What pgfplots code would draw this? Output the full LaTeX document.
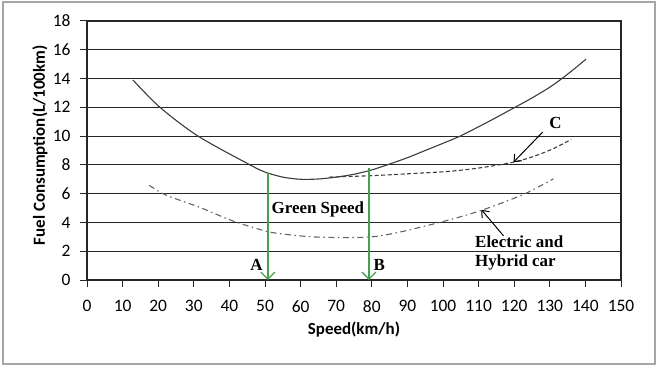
\documentclass[border=0pt]{standalone}
\usepackage{pgfplots}
\pgfplotsset{compat=1.18}
\usepackage{fontspec}
\setmainfont{Carlito}
\newfontfamily\tnr{Liberation Serif}
\usetikzlibrary{arrows.meta}
\definecolor{gline}{RGB}{70,160,80}
\definecolor{curve}{RGB}{60,60,60}
\begin{document}
\begin{tikzpicture}
\useasboundingbox (-87bp,-88bp) rectangle (572bp,280bp);
\draw[black!35, line width=1.3bp] (-84bp,-84bp) rectangle (568bp,278bp);
\begin{axis}[
  at={(0,0)}, anchor=south west,
  scale only axis, width=534bp, height=259bp,
  xmin=0, xmax=150, ymin=0, ymax=18,
  xtick={0,10,...,150}, ytick={0,2,...,18},
  xtick pos=bottom, ytick pos=left,
  tick align=outside, major tick length=7bp,
  ymajorgrids, grid style={black!85, line width=1.1bp},
  axis line style={black!85, line width=1.1bp},
  tick style={black!85, line width=1bp},
  /pgf/number format/assume math mode=true,
  ticklabel style={font=\fontsize{17.5}{17.5}\selectfont},
  xticklabel style={yshift=-10bp},
  yticklabel style={xshift=-6bp},
  xlabel={Speed(km/h)}, ylabel={Fuel Consumption(L/100km)},
  label style={font=\bfseries\fontsize{17}{17}\selectfont},
  xlabel style={at={(axis description cs:0.5,-0.193)}, anchor=center},
  ylabel style={at={(axis description cs:-0.088,0.52)}, anchor=center},
  clip=false,
]
\addplot[curve, line width=1.1bp, smooth] coordinates {
(12.9,13.9) (20.5,12) (31.2,10) (45.8,8) (50,7.5) (55,7.15) (60,7.0) (65,7.02)
(70,7.15) (75,7.35) (80,7.65) (84.3,8.0) (90,8.5) (95,9.0) (100,9.5) (104.8,10)
(110,10.65) (115,11.3) (120.2,12) (125,12.65) (130,13.4) (133.4,14) (136.5,14.6) (140.2,15.35)};
\addplot[curve, line width=1.1bp, smooth, dash pattern=on 4bp off 2.5bp] coordinates {
(68,7.15) (80,7.25) (90,7.38) (100,7.52) (105,7.63) (110,7.78) (115,7.97) (119.8,8.19)
(124,8.47) (128,8.82) (132,9.25) (136,9.77)};
\addplot[curve!80, line width=1.1bp, smooth, dash pattern=on 6bp off 3.5bp on 1.5bp off 3.5bp] coordinates {
(17.5,6.58) (21.3,6.0) (26,5.55) (31.7,5.05) (36,4.6) (41,4.1) (46,3.7) (52,3.3)
(62,3.02) (71,2.95) (79,2.98) (84,3.14) (90,3.45) (99,4.0) (105,4.4) (110.8,4.84)
(117,5.4) (123.5,6.05) (131,7.03)};
\draw[gline, line width=1.3bp, -{Straight Barb[length=7bp,width=14bp]}] (axis cs:50.8,7.45) -- (axis cs:50.8,0);
\draw[gline, line width=1.3bp, -{Straight Barb[length=7bp,width=14bp]}] (axis cs:79.2,7.8) -- (axis cs:79.2,0);
\draw[black, line width=1bp, -{Straight Barb[length=6bp,width=10bp]}] (axis cs:128,10.28) -- (axis cs:119.8,8.19);
\draw[black, line width=1bp, -{Straight Barb[length=6bp,width=10bp]}] (axis cs:117,3.07) -- (axis cs:110.8,4.88);
\node[anchor=west, inner sep=0pt, font=\tnr\bfseries\fontsize{17}{17}\selectfont] at (axis cs:51.8,4.9) {Green Speed};
\node[inner sep=0pt, font=\tnr\bfseries\fontsize{17}{17}\selectfont] at (axis cs:47.6,1.05) {A};
\node[inner sep=0pt, font=\tnr\bfseries\fontsize{17}{17}\selectfont] at (axis cs:82.1,1.05) {B};
\node[inner sep=0pt, font=\tnr\bfseries\fontsize{17}{17}\selectfont] at (axis cs:131.6,10.93) {C};
\node[anchor=west, inner sep=0pt, font=\tnr\bfseries\fontsize{17}{17}\selectfont] at (axis cs:109,2.67) {Electric and};
\node[anchor=west, inner sep=0pt, font=\tnr\bfseries\fontsize{17}{17}\selectfont] at (axis cs:109,1.2) {Hybrid car};
\end{axis}
\end{tikzpicture}
\end{document}
